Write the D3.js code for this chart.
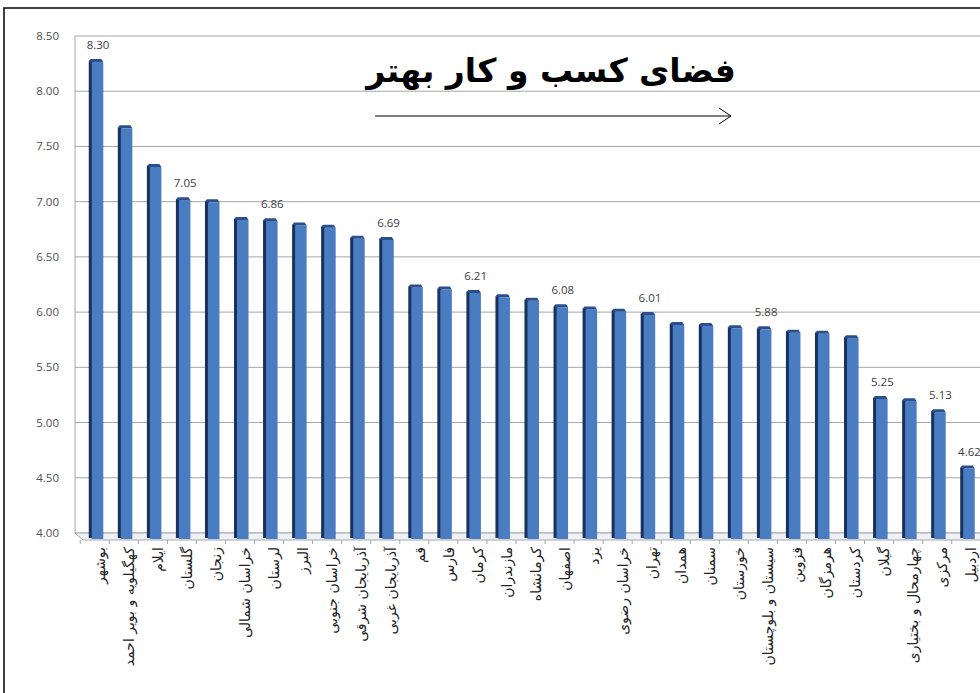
<!DOCTYPE html>
<html>
<head>
<meta charset="utf-8">
<script src="https://cdnjs.cloudflare.com/ajax/libs/d3/7.8.5/d3.min.js"></script>
<style>
  body { margin: 0; background: #fff; }
  svg { display: block; }
  .tick-label { font-family: "Open Sans", "DejaVu Sans", sans-serif; font-size: 11.5px; fill: #505050; }
  .cat-label { font-family: "DejaVu Sans", sans-serif; font-size: 14px; fill: #222; }
  .val-label { font-family: "Open Sans", "DejaVu Sans", sans-serif; font-size: 11.5px; fill: #404040; }
  .title { font-family: "DejaVu Sans", sans-serif; font-size: 33px; font-weight: bold; fill: #000; }
</style>
</head>
<body>
<svg class="chart"></svg>
<script>
// provinces, best business environment first
var provinces = ["بوشهر", "کهگیلویه و بویر احمد", "ایلام", "گلستان", "زنجان", "خراسان شمالی",
    "لرستان", "البرز", "خراسان جنوبی", "آذربایجان شرقی", "آذربایجان غربی", "قم", "فارس",
    "کرمان", "مازندران", "کرمانشاه", "اصفهان", "یزد", "خراسان رضوی", "تهران", "همدان",
    "سمنان", "خوزستان", "سیستان و بلوچستان", "قزوین", "هرمزگان", "کردستان", "گیلان",
    "چهارمحال و بختیاری", "مرکزی", "اردبیل"];
var scores = [8.30, 7.70, 7.35, 7.05, 7.03, 6.87, 6.86, 6.82, 6.80, 6.70, 6.69, 6.26, 6.24,
    6.21, 6.17, 6.14, 6.08, 6.06, 6.04, 6.01, 5.92, 5.91, 5.89, 5.88, 5.85, 5.84, 5.80,
    5.25, 5.23, 5.13, 4.62];
// only some bars carry a label
var labelled = [0, 3, 6, 10, 13, 16, 19, 23, 27, 29, 30];
var yTicks = [4.00, 4.50, 5.00, 5.50, 6.00, 6.50, 7.00, 7.50, 8.00, 8.50];
var title = "فضای کسب و کار بهتر";

function show() {
    'use strict';
    var W = 980, H = 693;
    var svg = d3.select(".chart").attr("width", W).attr("height", H);

    var x = d3.scaleBand().domain(provinces).range([81.5, 982]).paddingInner(0.5).paddingOuter(0.25);
    var y = d3.scaleLinear().domain([4, 8.5]).range([533, 36]);
    var left = 75, depthX = 8, depthY = 7;

    // gridlines (back wall)
    svg.append("g").selectAll("line").data(yTicks).enter().append("line")
        .attr("x1", left).attr("x2", W).attr("y1", function(d) { return y(d); })
        .attr("y2", function(d) { return y(d); })
        .attr("stroke", "#a6a6a6").attr("stroke-width", 1);
    svg.append("line").attr("x1", left).attr("x2", left).attr("y1", y(8.5)).attr("y2", y(4))
        .attr("stroke", "#a6a6a6");

    // floor
    var fy = y(4);
    svg.append("path")
        .attr("d", "M" + left + "," + fy + "L" + W + "," + fy + "L" + (W + depthX) + "," + (fy + depthY) +
            "L" + (left + depthX) + "," + (fy + depthY) + "Z")
        .attr("fill", "#eef1f7").attr("stroke", "#a6a6a6");
    svg.append("g").selectAll("line").data(d3.range(provinces.length + 1)).enter().append("line")
        .attr("x1", function(i) { return 81.5 + i * x.step() - x.step() * 0.25 + depthX - 2; })
        .attr("x2", function(i) { return 81.5 + i * x.step() - x.step() * 0.25 + depthX - 2; })
        .attr("y1", fy + depthY).attr("y2", fy + depthY + 4)
        .attr("stroke", "#a6a6a6");

    // y tick labels
    svg.append("g").selectAll("text").data(yTicks).enter().append("text")
        .attr("class", "tick-label")
        .attr("x", 59).attr("y", function(d) { return y(d) + 4; })
        .attr("text-anchor", "end")
        .text(function(d) { return d.toFixed(2); });

    // bars with a little 3d look
    var bars = svg.append("g").selectAll("g").data(provinces).enter().append("g");
    bars.append("rect")
        .attr("x", function(d) { return x(d); })
        .attr("y", function(d, i) { return y(scores[i]) + 3; })
        .attr("width", 4)
        .attr("height", function(d, i) { return fy + 5 - y(scores[i]) - 3; })
        .attr("fill", "#17325e");
    bars.append("rect")
        .attr("x", function(d) { return x(d) + 3; })
        .attr("y", function(d, i) { return y(scores[i]) + 4; })
        .attr("width", x.bandwidth() - 3)
        .attr("height", function(d, i) { return fy + 6 - y(scores[i]) - 4; })
        .attr("fill", "#4a7cc2");
    bars.append("path")
        .attr("d", function(d, i) {
            var bx = x(d), ty = y(scores[i]) + 1;
            return "M" + bx + "," + (ty + 2) + "L" + (bx + 2) + "," + ty + "L" + (bx + x.bandwidth() - 2) + "," + ty +
                "L" + (bx + x.bandwidth()) + "," + (ty + 3) + "L" + (bx + 3) + "," + (ty + 3) + "Z";
        })
        .attr("fill", "#2b4f8c");

    // value labels
    svg.append("g").selectAll("text").data(labelled).enter().append("text")
        .attr("class", "val-label")
        .attr("x", function(i) { return x(provinces[i]) + x.bandwidth() / 2 + 2; })
        .attr("y", function(i) { return y(scores[i]) - 9; })
        .attr("text-anchor", "middle")
        .text(function(i) { return scores[i].toFixed(2); });

    // category labels, rotated
    svg.append("g").selectAll("text").data(provinces).enter().append("text")
        .attr("class", "cat-label")
        .attr("transform", function(d) {
            return "translate(" + (x(d) + x.bandwidth() / 2 + 4) + "," + 547 + ") rotate(-90)";
        })
        .attr("text-anchor", "end")
        .attr("dominant-baseline", "central")
        .text(function(d) { return d; });

    // title + arrow
    svg.append("text").attr("class", "title")
        .attr("x", 551).attr("y", 82).attr("text-anchor", "middle")
        .text(title);
    svg.append("line").attr("x1", 375).attr("x2", 731).attr("y1", 116).attr("y2", 116)
        .attr("stroke", "#000").attr("stroke-width", 1);
    svg.append("path").attr("d", "M719,108L731,116L719,124")
        .attr("fill", "none").attr("stroke", "#000").attr("stroke-width", 1);

    // outer frame
    svg.append("rect").attr("x", 4).attr("y", 8).attr("width", W + 20).attr("height", H + 20)
        .attr("fill", "none").attr("stroke", "#000").attr("stroke-width", 1.5);
}
show();
</script>
</body>
</html>
